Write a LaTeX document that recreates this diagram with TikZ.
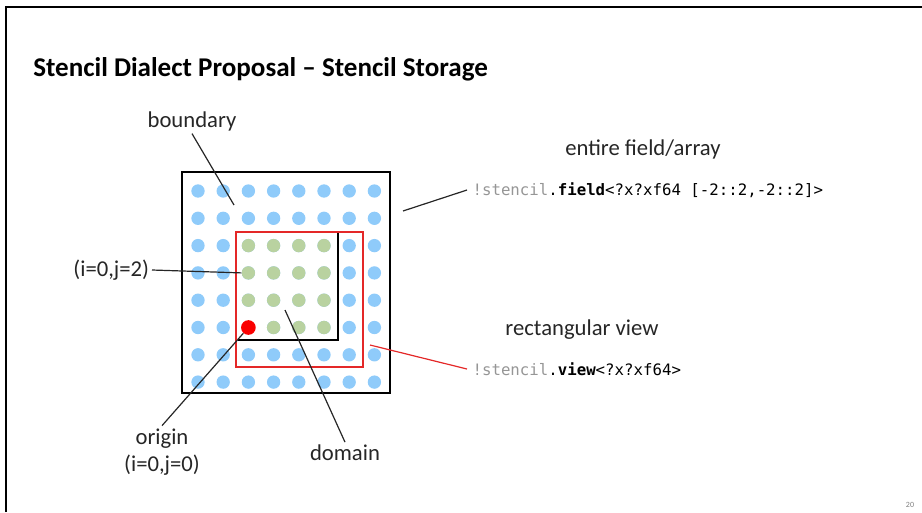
\documentclass[tikz,border=0pt]{standalone}
\definecolor{dotblue}{RGB}{143, 203, 250}
\definecolor{dotgreen}{RGB}{185, 210, 160}
\definecolor{viewred}{RGB}{228, 40, 40}
\definecolor{originred}{RGB}{250, 0, 0}
\definecolor{codegray}{RGB}{150, 150, 150}
\usepackage{fontspec}
\setmainfont{Carlito}
\newfontfamily\codefont{DejaVu Sans Mono}
\usepackage{tikz}
\usetikzlibrary{positioning, calc}

\begin{document}
\begin{tikzpicture}[x=0.75pt, y=-0.75pt,
    lbl/.style={font=\fontsize{17}{20.5}\selectfont, text=black!85, inner sep=2pt},
    code/.style={font=\codefont\fontsize{11.8}{14}\selectfont, anchor=west, inner sep=4pt},
    dot/.style={circle, inner sep=0pt, minimum size=10pt},
    leader/.style={line width=0.9pt, black!85}]
  \useasboundingbox (0,0) rectangle (922,512);

  % Slide frame
  \draw[line width=1.5pt] (6,512) -- (6,7) -- (922,7);

  % Title
  \node[anchor=west, font=\bfseries\fontsize{20.3}{24}\selectfont, inner sep=0pt] (title) at (33,69) {Stencil Dialect Proposal -- Stencil Storage};

  % Grid of points
  \foreach \c in {0,...,7} {
    \foreach \r in {0,...,7} {
      \node[dot, fill=dotblue] (d\c\r) at (198+25.2*\c, 191+27.3*\r) {};
    }
  }
  \foreach \c in {2,...,5} {
    \foreach \r in {2,...,5} {
      \node[dot, fill=dotgreen] (d\c\r) at (198+25.2*\c, 191+27.3*\r) {};
    }
  }
  \node[dot, fill=originred, minimum size=11pt] (d25) at (198+25.2*2, 191+27.3*5) {};

  % Field, view and domain
  \draw[line width=1.5pt] (182,172) rectangle (390,393);
  \draw[viewred, line width=1.1pt] (236,232) rectangle (363,367);
  \draw[line width=1.3pt] (338,233) -- (338,340) -- (238,340);

  % Labels
  \node[lbl] (boundary) at (192,121) {boundary};
  \node[lbl, anchor=east] (ij2) at (152,270) {(i=0,j=2)};
  \node[lbl, align=center] (origin) at (162,452) {origin\\(i=0,j=0)};
  \node[lbl] (domain) at (345,453) {domain};
  \node[lbl] (fieldlbl) at (643,149) {entire field/array};
  \node[lbl] (viewlbl) at (582,330) {rectangular view};

  \node[code] (fieldcode) at (467,190) {{\color{codegray}!stencil}.\textbf{field}<?x?xf64 [-2::2,-2::2]>};
  \node[code] (viewcode) at (467,369) {{\color{codegray}!stencil}.\textbf{view}<?x?xf64>};

  \node[font=\fontsize{6}{7}\selectfont, text=gray] (pagenum) at (910,505) {20};

  % Leader lines
  \coordinate (bndpt) at (234,205);
  \coordinate (dompt) at (285,310);
  \coordinate (fieldpt) at (403,211);
  \coordinate (viewpt) at (370,345);

  \draw[leader] (boundary.south) -- (bndpt);
  \draw[leader] (ij2.east) -- (d23.west);
  \draw[leader] (origin.north) -- (d25);
  \draw[leader] (domain.north) -- (dompt);
  \draw[leader] (fieldpt) -- (fieldcode.west);
  \draw[viewred, line width=0.9pt] (viewpt) -- (viewcode.west);
\end{tikzpicture}
\end{document}
